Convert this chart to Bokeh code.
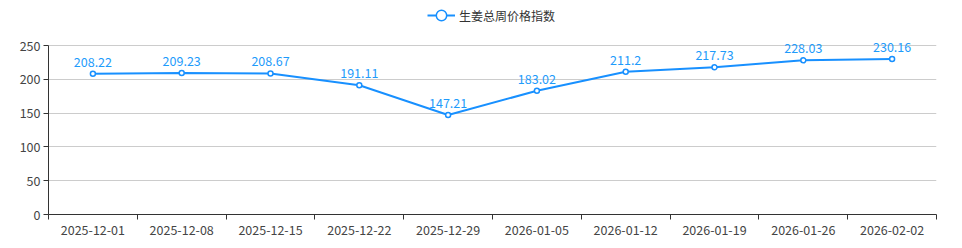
from bokeh.plotting import figure
from bokeh.models import FixedTicker, ColumnDataSource, Legend, LegendItem, Range1d, LabelSet
from bokeh.core.properties import value
from bokeh.embed import file_html
from bokeh.resources import INLINE

dates = ["2025-12-01", "2025-12-08", "2025-12-15", "2025-12-22", "2025-12-29",
         "2026-01-05", "2026-01-12", "2026-01-19", "2026-01-26", "2026-02-02"]
values = [208.22, 209.23, 208.67, 191.11, 147.21, 183.02, 211.2, 217.73, 228.03, 230.16]
value_labels = ["208.22", "209.23", "208.67", "191.11", "147.21", "183.02", "211.2", "217.73", "228.03", "230.16"]
y_ticks = [0, 50, 100, 150, 200, 250]
series_name = "生姜总周价格指数"

FONT = "Noto Sans CJK SC"
BLUE = "#1890ff"
LABEL_BLUE = "#1e9bfb"
FS = "12.5px"

xs = [i + 0.5 for i in range(len(dates))]
src = ColumnDataSource(dict(x=xs, y=values, lab=value_labels))

# frame spans full height above the axis; axis line limited to 0..250
y_top = 250 + 45 * 250 / 169
p = figure(width=962, height=248, output_backend="svg", toolbar_location=None,
           x_range=Range1d(0, len(dates)), y_range=Range1d(0, y_top),
           min_border_left=48, min_border_right=26, min_border_bottom=34, min_border_top=0)
p.outline_line_color = None
p.background_fill_color = "white"
p.border_fill_color = "white"

line = p.line("x", "y", source=src, line_color=BLUE, line_width=2)
pts = p.scatter("x", "y", source=src, size=5, fill_color="white", line_color=BLUE, line_width=1.5)

labels = LabelSet(x="x", y="y", text="lab", source=src, x_offset=0, y_offset=7,
                  text_align="center", text_baseline="bottom", text_color=LABEL_BLUE,
                  text_font=value(FONT), text_font_size=FS)
p.add_layout(labels)

# x axis: labels at band centers, ticks at band boundaries
p.xaxis.ticker = FixedTicker(ticks=xs, minor_ticks=list(range(len(dates) + 1)))
p.xaxis.major_label_overrides = {x: d for x, d in zip(xs, dates)}
p.xaxis.major_tick_line_color = None
p.xaxis.minor_tick_line_color = "#333333"
p.xaxis.minor_tick_out = 5
p.xaxis.minor_tick_in = 0
p.xaxis.axis_line_color = "#333333"
p.xaxis.major_label_text_font = FONT
p.xaxis.major_label_text_font_size = FS
p.xaxis.major_label_text_color = "#444444"
p.xaxis.major_label_standoff = 4

p.yaxis.ticker = FixedTicker(ticks=y_ticks, minor_ticks=[])
p.yaxis.bounds = (0, 250)
p.yaxis.axis_line_color = "#333333"
p.yaxis.major_tick_line_color = "#333333"
p.yaxis.major_tick_out = 5
p.yaxis.major_tick_in = 0
p.yaxis.major_label_text_font = FONT
p.yaxis.major_label_text_font_size = FS
p.yaxis.major_label_text_color = "#444444"
p.yaxis.major_label_standoff = 3

p.xgrid.visible = False
p.ygrid.grid_line_color = "#cccccc"
p.ygrid.ticker = FixedTicker(ticks=y_ticks)

icon = p.scatter(x=[-10], y=[-10], size=11, fill_color="white", line_color=BLUE, line_width=1.5)

legend = Legend(items=[LegendItem(label=series_name, renderers=[line, icon])],
                orientation="horizontal", location=(379, 186),
                label_text_font=FONT, label_text_font_size="12px", label_text_color="#333333",
                border_line_color=None, background_fill_alpha=0,
                glyph_width=28, glyph_height=26, padding=0, margin=0, spacing=4,
                label_standoff=4, label_height=26)
p.add_layout(legend)

open("out.html", "w").write(file_html(p, INLINE))
